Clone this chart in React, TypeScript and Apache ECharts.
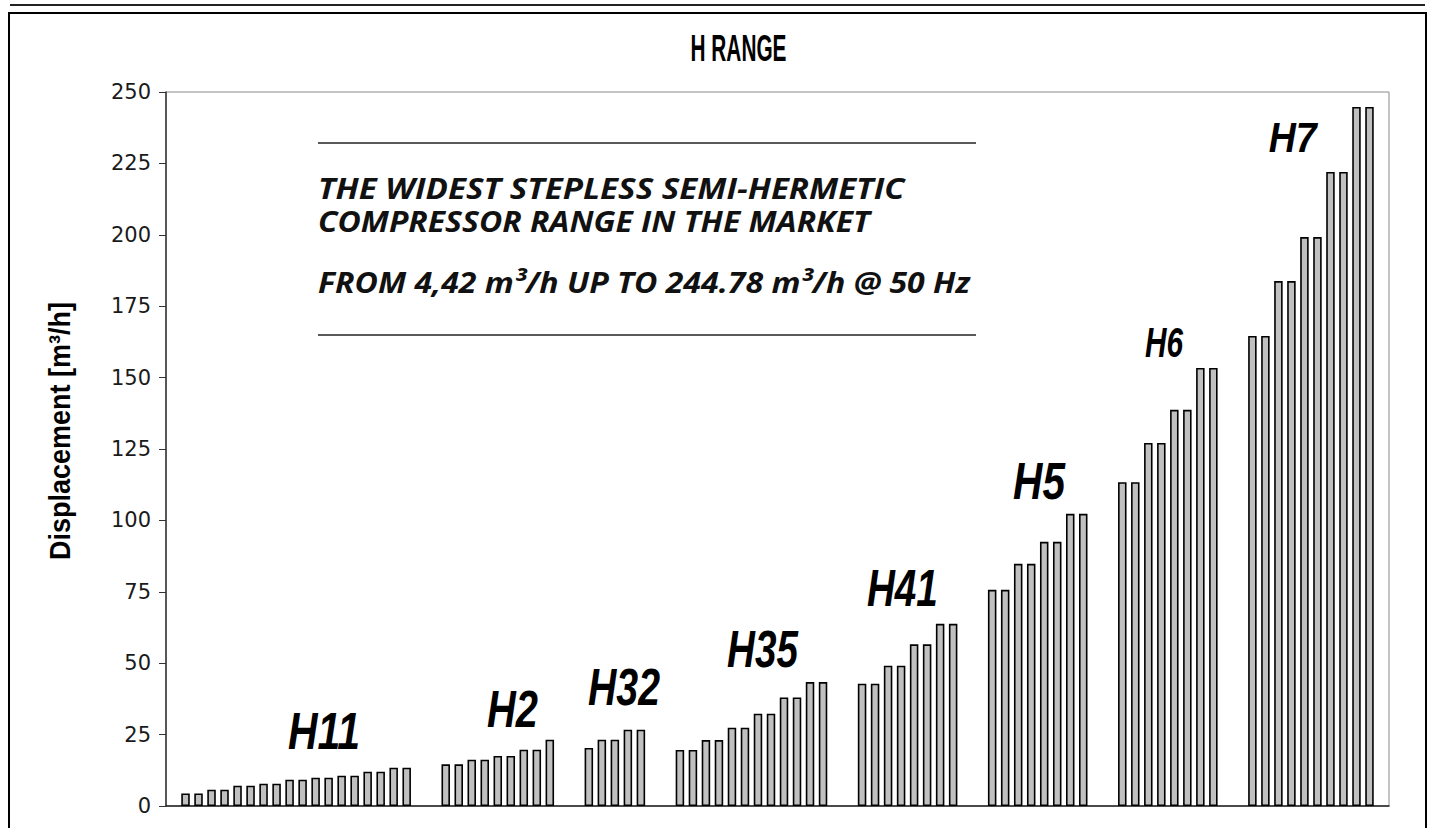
import React, { useEffect, useRef } from "react";
import * as echarts from "echarts";

// ---------- DATA ----------
const groupNames = ["H11", "H2", "H32", "H35", "H41", "H5", "H6", "H7"];
const h11 = [4.42, 4.42, 5.7, 5.7, 7.1, 7.1, 7.8, 7.8, 9.2, 9.2, 9.9, 9.9, 10.6, 10.6, 12.0, 12.0, 13.4, 13.4];
const h2 = [14.6, 14.6, 16.2, 16.2, 17.5, 17.5, 19.7, 19.7, 23.2];
const h32 = [20.3, 23.2, 23.2, 26.7, 26.7];
const h35 = [19.6, 19.6, 23.1, 23.1, 27.4, 27.4, 32.3, 32.3, 38.0, 38.0, 43.4, 43.4];
const h41 = [42.8, 42.8, 49.1, 49.1, 56.6, 56.6, 63.8, 63.8];
const h5 = [75.7, 75.7, 84.8, 84.8, 92.5, 92.5, 102.3, 102.3];
const h6 = [113.4, 113.4, 127.1, 127.1, 138.7, 138.7, 153.4, 153.4];
const h7 = [164.6, 164.6, 183.8, 183.8, 199.2, 199.2, 222.0, 222.0, 244.78, 244.78];
const groupValues = [h11, h2, h32, h35, h41, h5, h6, h7];

const yMin = 0;
const yMax = 250;
const yStep = 25;

const titleText = "H RANGE";
const yAxisName = "Displacement [m\u00B3/h]";
const noteLines = [
  "THE WIDEST STEPLESS SEMI-HERMETIC",
  "COMPRESSOR RANGE IN THE MARKET",
  "FROM 4,42 m\u00B3/h UP TO 244.78 m\u00B3/h @ 50 Hz",
];

// ---------- LAYOUT (not data) ----------
const gapSlots = 2;
const edgeSlots = 1;
// label anchor: slot offset within group, y value at label centre, font size, target width
const labelLayout = [
  { slot: 10.64, y: 26.3, size: 52, width: 72 },
  { slot: 5.13, y: 34.0, size: 52, width: 51 },
  { slot: 2.7, y: 41.8, size: 52, width: 72 },
  { slot: 6.35, y: 55.0, size: 52, width: 71 },
  { slot: 3.1, y: 76.2, size: 52, width: 71 },
  { slot: 3.6, y: 113.6, size: 52, width: 52 },
  { slot: 3.2, y: 162.1, size: 42, width: 38 },
  { slot: 3.1, y: 234.2, size: 42, width: 48 },
];

function measure(text: string, font: string): number {
  const c = document.createElement("canvas").getContext("2d");
  if (!c) return text.length * 10;
  c.font = font;
  return c.measureText(text).width;
}

export default function App() {
  const ref = useRef<HTMLDivElement>(null);

  useEffect(() => {
    if (!ref.current) return;
    const chart = echarts.init(ref.current, null, { renderer: "svg" });

    // build categories
    const categories: string[] = [];
    const values: (number | string)[] = [];
    const groupStart: number[] = [];
    for (let e = 0; e < edgeSlots; e++) {
      categories.push("lead-" + e);
      values.push("-");
    }
    groupValues.forEach((vals, gi) => {
      if (gi > 0) {
        for (let g = 0; g < gapSlots; g++) {
          categories.push(`gap-${gi}-${g}`);
          values.push("-");
        }
      }
      groupStart.push(categories.length);
      vals.forEach((v, i) => {
        categories.push(`${groupNames[gi]}-${i + 1}`);
        values.push(v);
      });
    });
    for (let e = 0; e < edgeSlots; e++) {
      categories.push("trail-" + e);
      values.push("-");
    }

    chart.setOption({
      animation: false,
      grid: {
        left: 166,
        right: 45,
        top: 92,
        bottom: 22,
        show: true,
        borderColor: "#8a8a8a",
        borderWidth: 1,
      },
      xAxis: {
        type: "category",
        data: categories,
        axisLine: { lineStyle: { color: "#222", width: 1.5 } },
        axisTick: { show: false },
        axisLabel: { show: false },
      },
      yAxis: {
        type: "value",
        min: yMin,
        max: yMax,
        interval: yStep,
        axisLine: { show: true, lineStyle: { color: "#333", width: 1.5 } },
        axisTick: { show: true, inside: false, length: 7, lineStyle: { color: "#333" } },
        splitLine: { show: false },
        axisLabel: {
          fontSize: 21,
          color: "#1a1a1a",
          fontFamily: "DejaVu Sans, Liberation Sans, sans-serif",
          margin: 15,
        },
      },
      series: [
        {
          type: "bar",
          data: values,
          barWidth: 8.5,
          silent: true,
          itemStyle: { color: "#c0c0c0", borderColor: "#000", borderWidth: 1.6 },
        },
      ],
    });

    const px = (slot: number) => {
      const f = Math.floor(slot);
      const a = chart.convertToPixel({ xAxisIndex: 0 }, f) as number;
      const b = chart.convertToPixel({ xAxisIndex: 0 }, f + 1) as number;
      return a + (slot - f) * (b - a);
    };
    const py = (v: number) => chart.convertToPixel({ yAxisIndex: 0 }, v) as number;

    const graphics: any[] = [];

    // group labels
    groupNames.forEach((name, gi) => {
      const L = labelLayout[gi];
      const fam = "Liberation Sans";
      const w = measure(name, `italic bold ${L.size}px "${fam}"`);
      graphics.push({
        type: "text",
        x: px(groupStart[gi] + L.slot),
        y: py(L.y),
        scaleX: L.width / w,
        style: {
          text: name,
          fontFamily: fam,
          fontSize: L.size,
          fontWeight: "bold",
          fontStyle: "italic",
          fill: "#000",
          align: "center",
          verticalAlign: "middle",
        },
      });
    });

    // title
    {
      const fam = "Liberation Sans";
      const size = 36;
      const w = measure(titleText, `bold ${size}px "${fam}"`);
      graphics.push({
        type: "text",
        x: 738.5,
        y: 48.5,
        scaleX: 96 / w,
        style: {
          text: titleText,
          fontFamily: fam,
          fontSize: size,
          fontWeight: "bold",
          fill: "#000",
          align: "center",
          verticalAlign: "middle",
        },
      });
    }

    // y axis name
    {
      const fam = "Liberation Sans";
      const size = 29;
      const w = measure(yAxisName, `bold ${size}px "${fam}"`);
      graphics.push({
        type: "text",
        x: 60,
        y: 431,
        rotation: Math.PI / 2,
        scaleX: 258 / w,
        style: {
          text: yAxisName,
          fontFamily: fam,
          fontSize: size,
          fontWeight: "bold",
          fill: "#000",
          align: "center",
          verticalAlign: "middle",
        },
      });
    }

    // note lines
    const noteY = [188, 221, 282];
    const noteW = [587, 552, 652];
    noteLines.forEach((t, i) => {
      const fam = "Open Sans";
      const size = 29;
      const w = measure(t, `italic bold ${size}px "${fam}"`);
      graphics.push({
        type: "text",
        x: 318,
        y: noteY[i],
        scaleX: noteW[i] / w,
        style: {
          text: t,
          fontFamily: fam,
          fontSize: size,
          fontWeight: "bold",
          fontStyle: "italic",
          fill: "#111",
          align: "left",
          verticalAlign: "middle",
        },
      });
    });
    graphics.push(
      { type: "line", shape: { x1: 318, y1: 143, x2: 976, y2: 143 }, style: { stroke: "#222", lineWidth: 1.5 } },
      { type: "line", shape: { x1: 318, y1: 335, x2: 976, y2: 335 }, style: { stroke: "#222", lineWidth: 1.5 } }
    );

    // page frame
    graphics.push(
      { type: "line", shape: { x1: 10, y1: 5, x2: 1425, y2: 5 }, style: { stroke: "#222", lineWidth: 2 } },
      { type: "line", shape: { x1: 8, y1: 13, x2: 1427, y2: 13 }, style: { stroke: "#000", lineWidth: 2 } },
      { type: "line", shape: { x1: 9, y1: 13, x2: 9, y2: 828 }, style: { stroke: "#000", lineWidth: 2 } },
      { type: "line", shape: { x1: 1426, y1: 13, x2: 1426, y2: 828 }, style: { stroke: "#000", lineWidth: 2 } }
    );

    chart.setOption({ graphic: graphics });

    return () => chart.dispose();
  }, []);

  return (
    <div
      ref={ref}
      style={{ position: "fixed", left: 0, top: 0, width: 1434, height: 828, background: "#fff" }}
    />
  );
}
